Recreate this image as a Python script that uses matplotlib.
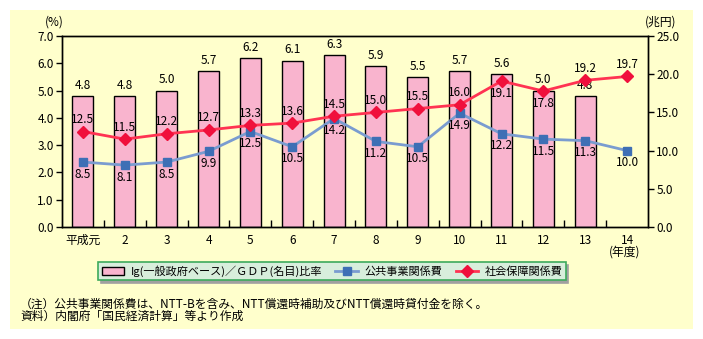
import matplotlib
matplotlib.use('Agg')
import matplotlib.pyplot as plt
from matplotlib.patches import Rectangle, Patch
from matplotlib.lines import Line2D
import numpy as np

plt.rcParams['font.family'] = ['Noto Sans CJK JP', 'DejaVu Sans']

years = ['平成元', '2', '3', '4', '5', '6', '7', '8', '9', '10', '11', '12', '13', '14']
ig_gdp = [4.8, 4.8, 5.0, 5.7, 6.2, 6.1, 6.3, 5.9, 5.5, 5.7, 5.6, 5.0, 4.8]
public_works = [8.5, 8.1, 8.5, 9.9, 12.5, 10.5, 14.2, 11.2, 10.5, 14.9, 12.2, 11.5, 11.3, 10.0]
social_security = [12.5, 11.5, 12.2, 12.7, 13.3, 13.6, 14.5, 15.0, 15.5, 16.0, 19.1, 17.8, 19.2, 19.7]

bar_label = 'Ig(一般政府ベース)／ＧＤＰ(名目)比率'
blue_label = '公共事業関係費'
red_label = '社会保障関係費'
note1 = '（注）公共事業関係費は、NTT-Bを含み、NTT償還時補助及びNTT償還時貸付金を除く。'
note2 = '資料）内閣府「国民経済計算」等より作成'

W, H = 703, 339
fig = plt.figure(figsize=(W / 100, H / 100), dpi=100, facecolor='white')
bg = '#FFFFCC'
fig.patches.append(Rectangle((10 / W, 1 - 329 / H), 683 / W, 319 / H,
                             transform=fig.transFigure, facecolor=bg, edgecolor='none', zorder=-10))

ax = fig.add_axes([62 / W, 1 - 227 / H, 586 / W, 191 / H])
ax.set_facecolor(bg)
ax2 = ax.twinx()

x = np.arange(len(years))
fs = 8.5

ax.bar(x[:len(ig_gdp)], ig_gdp, width=0.5, color='#F9B4CE', edgecolor='black', linewidth=1, zorder=2)
for xi, v in zip(x, ig_gdp):
    ax.annotate(f'{v:.1f}', (xi, v), xytext=(0, 3), textcoords='offset points',
                ha='center', va='bottom', fontsize=fs)

ax.set_xlim(-0.5, len(years) - 0.5)
ax.set_ylim(0, 7)
ax.set_yticks(np.arange(0, 8, 1))
ax.set_yticklabels([f'{v:.1f}' for v in range(8)], fontsize=fs)
ax.set_xticks(x)
ax.set_xticklabels(years, fontsize=fs)
ax.set_xticks(x[:-1] + 0.5, minor=True)
ax.tick_params(axis='x', which='major', length=0, pad=5)
ax.tick_params(axis='x', which='minor', direction='in', length=5, width=1)
ax.tick_params(axis='y', direction='out', length=4, width=1, pad=2)

ax2.plot(x, public_works, color='#7A9CD0', linewidth=2, marker='s', markersize=6,
         markerfacecolor='#3E6FB5', markeredgecolor='#3E6FB5', zorder=3)
ax2.plot(x, social_security, color='#FF3352', linewidth=2, marker='D', markersize=6,
         markerfacecolor='#F0103C', markeredgecolor='#F0103C', zorder=4)
for xi, v in zip(x, public_works):
    ax2.annotate(f'{v:.1f}', (xi, v), xytext=(0, -4), textcoords='offset points',
                 ha='center', va='top', fontsize=fs)
for i, (xi, v) in enumerate(zip(x, social_security)):
    if years[i] in ('11', '12'):
        ax2.annotate(f'{v:.1f}', (xi, v), xytext=(0, -4), textcoords='offset points',
                     ha='center', va='top', fontsize=fs)
    else:
        ax2.annotate(f'{v:.1f}', (xi, v), xytext=(0, 4), textcoords='offset points',
                     ha='center', va='bottom', fontsize=fs)
ax2.set_ylim(0, 25)
ax2.set_yticks(np.arange(0, 26, 5))
ax2.set_yticklabels([f'{v:.1f}' for v in range(0, 26, 5)], fontsize=fs)
ax2.tick_params(axis='y', direction='out', length=4, width=1, pad=2)

for a in (ax, ax2):
    for s in a.spines.values():
        s.set_color('black')
        s.set_linewidth(1)

fig.text(54 / W, 1 - 22 / H, '(%)', fontsize=fs, ha='center', va='center')
fig.text(661 / W, 1 - 22 / H, '(兆円)', fontsize=fs, ha='center', va='center')
fig.text(625 / W, 1 - 252 / H, '(年度)', fontsize=fs, ha='center', va='center')

handles = [Patch(facecolor='#F9B4CE', edgecolor='black', linewidth=1),
           Line2D([], [], color='#7A9CD0', linewidth=2, marker='s', markersize=6,
                  markerfacecolor='#3E6FB5', markeredgecolor='#3E6FB5'),
           Line2D([], [], color='#FF3352', linewidth=2, marker='D', markersize=6,
                  markerfacecolor='#F0103C', markeredgecolor='#F0103C')]
leg = fig.legend(handles, [bar_label, blue_label, red_label], loc='center',
                 bbox_to_anchor=(332 / W, 1 - 271 / H), ncol=3, fontsize=8,
                 frameon=True, fancybox=False, shadow={'color': '#A0A0A0', 'alpha': 1},
                 borderpad=0.3, handlelength=2.0, columnspacing=1.2, handletextpad=0.6,
                 borderaxespad=0)
leg.get_frame().set_facecolor('#D8EEDC')
leg.get_frame().set_edgecolor('#3DAA5C')
leg.get_frame().set_alpha(1)
leg.get_frame().set_linewidth(1.2)

fig.text(20 / W, 1 - 304 / H, note1, fontsize=fs, ha='left', va='center')
fig.text(20 / W, 1 - 316 / H, note2, fontsize=fs, ha='left', va='center')

fig.savefig('out.png', dpi=100, facecolor='white')
